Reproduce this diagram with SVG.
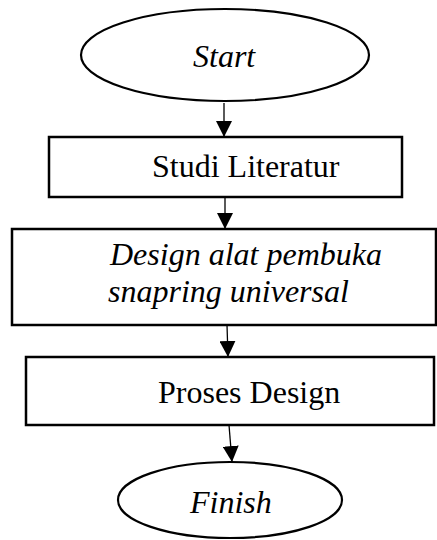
<svg xmlns="http://www.w3.org/2000/svg" width="437" height="540" viewBox="0 0 437 540">
  <defs>
    <marker id="arrow" viewBox="0 0 16 16" refX="16" refY="8" markerWidth="16" markerHeight="16" markerUnits="userSpaceOnUse" orient="auto">
      <path d="M0,0 L16,8 L0,16 Z" fill="#000"/>
    </marker>
    <style>
      .shape { fill: #fff; stroke: #000; stroke-width: 2.5; }
      .term { fill: #fff; stroke: #000; stroke-width: 2.2; }
      .label { font-family: "Liberation Serif", "Times New Roman", serif; font-size: 32px; fill: #000; }
      .it { font-style: italic; }
      .conn { stroke: #000; stroke-width: 1.3; fill: none; marker-end: url(#arrow); }
    </style>
  </defs>
  <rect width="437" height="540" fill="#fff"/>

  <g id="connectors">
    <line class="conn" x1="224" y1="103" x2="224" y2="137"/>
    <line class="conn" x1="225" y1="197" x2="225" y2="229"/>
    <line class="conn" x1="227" y1="325" x2="228" y2="357"/>
    <line class="conn" x1="229" y1="425" x2="232" y2="462"/>
  </g>

  <g id="start">
    <ellipse class="term" cx="225" cy="55" rx="144" ry="46"/>
    <text class="label it" x="193" y="67">Start</text>
  </g>

  <g id="studi-literatur">
    <rect class="shape" x="49" y="137" width="353" height="60"/>
    <text class="label" x="152" y="177">Studi Literatur</text>
  </g>

  <g id="design-alat">
    <rect class="shape" x="12" y="229" width="424" height="96"/>
    <text class="label it"><tspan x="110" y="265">Design alat pembuka</tspan><tspan x="108" y="302">snapring universal</tspan></text>
  </g>

  <g id="proses-design">
    <rect class="shape" x="26" y="357" width="408" height="68"/>
    <text class="label" x="158" y="403">Proses Design</text>
  </g>

  <g id="finish">
    <ellipse class="term" cx="230" cy="500" rx="112" ry="38"/>
    <text class="label it" x="190" y="513">Finish</text>
  </g>
</svg>
